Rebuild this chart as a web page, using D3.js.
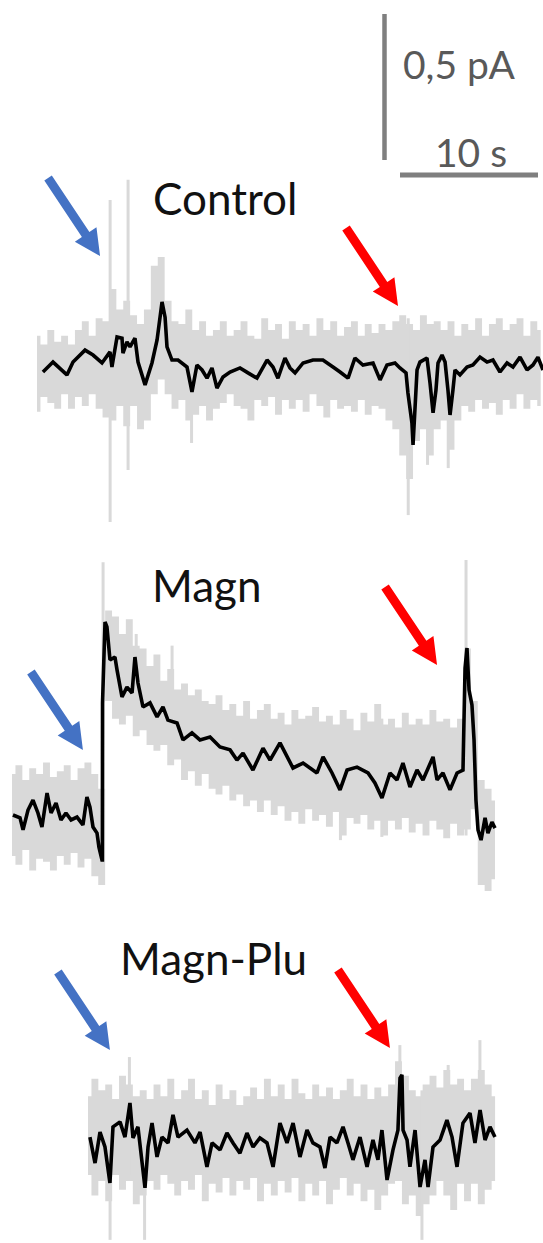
<!DOCTYPE html>
<html>
<head>
<meta charset="utf-8">
<script src="https://cdn.jsdelivr.net/npm/d3@7"></script>
<style>
  body { margin: 0; background: #fff; }
  svg { display: block; }
</style>
</head>
<body>
<div id="viz"></div>
<script>
const width = 543;
const height = 1243;

// ---- data: time in s, current in pA ----
// gray (raw) traces are stored as upper/lower envelope, one value every 0.5 s
const grayStep = 0.5;

// Control
const controlMean = [[0.43,-0.024],[1.16,0.010],[2.17,-0.034],[2.61,0.010],[3.48,0.051],[4.06,0.034],[4.71,0.007],[5.29,0.045],[5.43,-0.007],[5.80,0.096],[6.16,0.092],[6.23,0.041],[6.52,0.079],[6.74,0.062],[7.10,0.092],[7.32,0.010],[7.83,-0.068],[8.33,0.007],[8.70,0.086],[9.06,0.216],[9.28,0.164],[9.42,0.062],[9.78,0.017],[10.22,0.017],[10.87,-0.007],[11.23,-0.092],[11.59,0],[11.96,-0.017],[12.32,-0.045],[12.68,-0.010],[13.04,-0.079],[13.48,-0.041],[13.99,-0.024],[14.71,-0.010],[15.29,-0.027],[15.94,-0.045],[16.67,0.017],[17.10,-0.007],[17.46,-0.045],[17.97,0.024],[18.33,-0.010],[18.70,-0.027],[19.28,0.007],[20.0,0.017],[20.72,0.017],[21.45,-0.007],[21.96,-0.024],[22.54,-0.045],[23.04,0.024],[23.62,0],[24.35,0.007],[24.86,-0.051],[25.36,0],[25.94,0.007],[26.30,-0.010],[26.74,-0.027],[26.88,-0.096],[27.17,-0.199],[27.25,-0.274],[27.54,-0.017],[27.75,0.010],[28.26,0.024],[28.48,-0.062],[28.70,-0.164],[28.91,-0.086],[29.06,0.007],[29.35,0.034],[29.57,0.010],[29.78,-0.086],[29.93,-0.171],[30.14,-0.086],[30.29,-0.017],[30.65,-0.034],[31.16,-0.007],[31.59,0],[32.10,0.027],[32.61,0.010],[33.04,0.017],[33.55,-0.024],[34.06,0.007],[34.49,-0.007],[35.0,0.027],[35.51,-0.017],[35.94,0],[36.30,0.027],[36.67,-0.017]];
const controlHi = [0.10,0.07,0.12,0.08,0.10,0.07,0.12,0.15,0.10,0.16,0.15,0.26,0.19,0.22,0.17,0.14,0.19,0.34,0.37,0.22,0.15,0.14,0.19,0.12,0.15,0.10,0.12,0.15,0.10,0.12,0.15,0.10,0.09,0.16,0.12,0.14,0.09,0.15,0.12,0.14,0.10,0.16,0.12,0.15,0.10,0.13,0.15,0.10,0.14,0.11,0.14,0.12,0.15,0.17,0.14,0.12,0.17,0.14,0.15,0.12,0.15,0.10,0.14,0.12,0.16,0.10,0.14,0.16,0.12,0.14,0.16,0.10,0.15,0.12];
const controlLo = [-0.16,-0.11,-0.13,-0.15,-0.10,-0.15,-0.11,-0.14,-0.10,-0.15,-0.18,-0.19,-0.14,-0.21,-0.14,-0.22,-0.19,-0.10,-0.05,-0.10,-0.15,-0.12,-0.19,-0.17,-0.14,-0.19,-0.15,-0.13,-0.10,-0.14,-0.15,-0.19,-0.12,-0.14,-0.11,-0.17,-0.12,-0.15,-0.12,-0.16,-0.10,-0.14,-0.18,-0.12,-0.15,-0.14,-0.16,-0.12,-0.17,-0.14,-0.15,-0.19,-0.22,-0.31,-0.39,-0.26,-0.22,-0.31,-0.22,-0.19,-0.29,-0.19,-0.14,-0.16,-0.12,-0.15,-0.13,-0.17,-0.12,-0.15,-0.10,-0.15,-0.12,-0.14];
const controlSpikes = [[5.3,0.565,-0.538],[6.6,0.634,-0.36],[11.2,0.086,-0.267],[26.9,0.16,-0.514],[28.3,0.12,-0.342],[29.8,0.12,-0.353]];

// Magn
const magnMean = [[0.07,0],[0.58,-0.010],[0.80,-0.051],[1.16,0.017],[1.52,0.051],[1.88,0.007],[2.17,-0.041],[2.54,0.075],[2.83,0.007],[3.19,0.041],[3.55,-0.017],[3.91,0.007],[4.28,-0.017],[4.71,-0.007],[5.14,-0.034],[5.43,0.062],[5.65,0.027],[5.87,-0.041],[6.16,-0.062],[6.30,-0.110],[6.52,-0.154],[6.55,-0.154],[6.56,0.384],[6.74,0.661],[6.88,0.644],[7.10,0.531],[7.46,0.541],[7.61,0.497],[7.97,0.404],[8.33,0.438],[8.70,0.418],[8.91,0.541],[9.13,0.452],[9.49,0.370],[10.0,0.384],[10.51,0.336],[10.94,0.370],[11.30,0.325],[11.96,0.315],[12.39,0.257],[13.04,0.281],[13.62,0.257],[14.35,0.267],[15.07,0.233],[15.80,0.223],[16.30,0.188],[16.74,0.212],[17.46,0.154],[18.19,0.229],[18.70,0.188],[19.42,0.247],[20.36,0.161],[21.09,0.178],[22.10,0.144],[22.54,0.199],[23.19,0.144],[23.77,0.086],[24.28,0.154],[25.0,0.164],[25.80,0.144],[26.30,0.110],[26.81,0.058],[27.39,0.144],[27.90,0.120],[28.33,0.178],[28.84,0.096],[29.35,0.154],[29.78,0.120],[30.51,0.199],[30.80,0.120],[31.23,0.144],[31.74,0.086],[32.25,0.144],[32.68,0.154],[32.83,0.503],[32.97,0.572],[33.12,0.428],[33.33,0.377],[33.48,0.257],[33.62,0.051],[33.77,-0.051],[33.99,-0.086],[34.28,-0.010],[34.49,-0.062],[34.78,-0.024],[35.0,-0.045]];
const magnHi = [0.14,0.17,0.12,0.16,0.14,0.18,0.13,0.15,0.17,0.12,0.16,0.18,0.14,0.09,0.70,0.68,0.62,0.67,0.58,0.57,0.51,0.55,0.46,0.50,0.43,0.45,0.41,0.43,0.39,0.38,0.41,0.36,0.38,0.34,0.39,0.33,0.36,0.38,0.33,0.35,0.31,0.36,0.33,0.34,0.37,0.32,0.34,0.31,0.36,0.33,0.29,0.35,0.32,0.38,0.31,0.33,0.30,0.35,0.31,0.33,0.31,0.36,0.32,0.33,0.30,0.33,0.57,0.39,0.12,0.09,0.05];
const magnLo = [-0.14,-0.17,-0.12,-0.19,-0.15,-0.16,-0.19,-0.14,-0.17,-0.13,-0.18,-0.15,-0.21,-0.24,0.39,0.33,0.31,0.34,0.27,0.29,0.24,0.22,0.24,0.17,0.19,0.12,0.15,0.10,0.14,0.09,0.07,0.10,0.05,0.07,0.03,0.05,0.01,0.05,0.00,0.03,-0.02,0.01,-0.03,0.02,-0.02,0.00,-0.04,0.01,-0.07,-0.01,-0.03,0.00,-0.05,-0.02,-0.07,-0.02,-0.05,-0.01,-0.06,-0.03,-0.07,-0.02,-0.05,-0.08,-0.03,-0.07,-0.05,0.02,-0.24,-0.26,-0.22];
const magnSpikes = [[6.6,0.866,-0.24],[9.0,0.62,0.40],[11.6,0.58,0.30],[23.8,0.30,-0.086],[26.8,0.33,-0.075],[32.9,0.873,-0.07]];

// Magn-Plu
const magnPluMean = [[0.14,0.010],[0.51,-0.079],[0.87,0.027],[1.23,-0.024],[1.59,-0.147],[1.81,0.045],[2.32,0.062],[2.68,0.010],[3.04,0.127],[3.26,0.007],[3.62,0.045],[4.13,-0.164],[4.35,-0.024],[4.64,0.058],[5.0,-0.058],[5.36,0.010],[5.80,-0.010],[6.16,0.086],[6.52,0.010],[7.17,0.034],[7.75,-0.010],[8.12,0.027],[8.62,-0.092],[8.99,-0.010],[9.57,-0.034],[10.07,0.024],[10.51,-0.010],[11.01,-0.045],[11.52,0.024],[11.96,-0.024],[12.46,0.007],[12.97,-0.010],[13.41,-0.092],[13.91,0.058],[14.42,-0.010],[14.86,0.058],[15.36,-0.058],[15.87,0.034],[16.30,-0.010],[16.81,-0.024],[17.17,-0.096],[17.54,0.010],[18.04,-0.010],[18.48,0.045],[18.84,-0.010],[19.20,-0.068],[19.71,0.010],[20.22,-0.092],[20.65,0],[21.01,-0.068],[21.30,0.034],[21.67,-0.137],[22.10,-0.034],[22.46,0.034],[22.61,0.212],[22.75,0.223],[22.83,0.034],[23.12,0],[23.33,-0.092],[23.70,0.034],[24.06,-0.161],[24.42,-0.068],[24.64,-0.161],[25.0,-0.024],[25.51,0],[26.01,0.068],[26.38,0.010],[26.74,-0.092],[27.17,0.058],[27.68,0.092],[28.04,-0.010],[28.41,0.103],[28.77,0],[29.13,0.045],[29.49,0.010]];
const magnPluHi = [0.15,0.21,0.17,0.19,0.14,0.22,0.19,0.15,0.17,0.14,0.19,0.15,0.21,0.14,0.17,0.21,0.14,0.17,0.12,0.19,0.14,0.17,0.12,0.15,0.18,0.14,0.21,0.15,0.19,0.14,0.21,0.16,0.14,0.19,0.15,0.18,0.14,0.17,0.21,0.15,0.19,0.14,0.18,0.15,0.19,0.27,0.22,0.17,0.15,0.19,0.22,0.18,0.24,0.19,0.21,0.17,0.21,0.24,0.19,0.15];
const magnPluLo = [-0.12,-0.19,-0.14,-0.21,-0.12,-0.17,-0.14,-0.22,-0.19,-0.14,-0.17,-0.12,-0.15,-0.19,-0.14,-0.17,-0.12,-0.21,-0.15,-0.18,-0.13,-0.19,-0.14,-0.17,-0.13,-0.21,-0.15,-0.19,-0.14,-0.18,-0.13,-0.21,-0.15,-0.19,-0.14,-0.22,-0.17,-0.13,-0.19,-0.15,-0.21,-0.17,-0.24,-0.19,-0.15,-0.14,-0.22,-0.19,-0.26,-0.22,-0.19,-0.14,-0.19,-0.24,-0.15,-0.21,-0.15,-0.22,-0.17,-0.14];
const magnPluSpikes = [[1.6,0.15,-0.342],[3.0,0.284,-0.12],[4.1,0.15,-0.342],[22.6,0.325,-0.14],[24.2,0.17,-0.342],[26.1,0.257,-0.15],[28.4,0.342,-0.2]];

// scale bar
const scaleTime = 10;     // s
const scaleCurrent = 0.5; // pA

// arrow tips [time, current] in each panel (blue = onset, red = washout)
const controlArrows = [[4.57, 0.373, "#4472c4"], [26.16, 0.202, "#ff0000"]];
const magnArrows = [[5.14, 0.223, "#4472c4"], [30.80, 0.514, "#ff0000"]];
const magnPluArrows = [[1.59, 0.308, "#4472c4"], [21.88, 0.315, "#ff0000"]];

// ---- scales ----
const x = d3.scaleLinear().domain([0, scaleTime]).range([0, 138]);
const y = d3.scaleLinear().domain([0, scaleCurrent]).range([0, -146]);

const panels = [
  { title: "Control", ox: 37, oy: 365, tx: 153, ty: 215,
    mean: controlMean, hi: controlHi, lo: controlLo, spikes: controlSpikes, arrows: controlArrows },
  { title: "Magn", ox: 12, oy: 815, tx: 152, ty: 602,
    mean: magnMean, hi: magnHi, lo: magnLo, spikes: magnSpikes, arrows: magnArrows },
  { title: "Magn-Plu", ox: 88, oy: 1140, tx: 120, ty: 975,
    mean: magnPluMean, hi: magnPluHi, lo: magnPluLo, spikes: magnPluSpikes, arrows: magnPluArrows }
];

const svg = d3.select("#viz")
  .append("svg")
  .attr("width", width)
  .attr("height", height);

const grayColor = "#d9d9d9";

const area = d3.area()
  .x(d => x(d.t))
  .y0(d => y(d.lo))
  .y1(d => y(d.hi))
  .curve(d3.curveStep);

const line = d3.line()
  .x(d => x(d[0]))
  .y(d => y(d[1]));

// arrow polygon pointing down-right, tip at 0,0
function arrowPoints() {
  const dx = 52, dy = 78;
  const len = Math.hypot(dx, dy);
  const ux = dx / len, uy = dy / len;
  const nx = -uy, ny = ux;
  const shaft = 4.5, head = 13, headLen = 26;
  const bx = -ux * headLen, by = -uy * headLen;
  const tx = -ux * len, ty = -uy * len;
  return [
    [tx + nx * shaft, ty + ny * shaft],
    [bx + nx * shaft, by + ny * shaft],
    [bx + nx * head, by + ny * head],
    [0, 0],
    [bx - nx * head, by - ny * head],
    [bx - nx * shaft, by - ny * shaft],
    [tx - nx * shaft, ty - ny * shaft]
  ];
}

panels.forEach(p => {
  const g = svg.append("g").attr("transform", `translate(${p.ox},${p.oy})`);

  const band = p.hi.map((h, i) => ({ t: i * grayStep, hi: h, lo: p.lo[i] }));

  g.append("path")
    .datum(band)
    .attr("d", area)
    .attr("fill", grayColor);

  g.selectAll(".spike")
    .data(p.spikes)
    .join("line")
    .attr("x1", d => x(d[0]))
    .attr("x2", d => x(d[0]))
    .attr("y1", d => y(d[1]))
    .attr("y2", d => y(d[2]))
    .attr("stroke", grayColor)
    .attr("stroke-width", 3);

  g.append("path")
    .datum(p.mean)
    .attr("d", line)
    .attr("fill", "none")
    .attr("stroke", "#000")
    .attr("stroke-width", 3.6)
    .attr("stroke-linejoin", "miter")
    .attr("stroke-miterlimit", 1.5);

  g.selectAll(".arrow")
    .data(p.arrows)
    .join("polygon")
    .attr("transform", d => `translate(${x(d[0])},${y(d[1])})`)
    .attr("points", arrowPoints().map(q => q.join(",")).join(" "))
    .attr("fill", d => d[2]);

  svg.append("text")
    .attr("x", p.tx)
    .attr("y", p.ty)
    .attr("font-family", "Lato, 'Open Sans', sans-serif")
    .attr("font-size", "44px")
    .attr("fill", "#111")
    .text(p.title);
});

// scale bar
const bar = svg.append("g");
bar.append("line")
  .attr("x1", 384.5).attr("x2", 384.5)
  .attr("y1", 14).attr("y2", 14 - y(scaleCurrent))
  .attr("stroke", "#7f7f7f").attr("stroke-width", 4.5);
bar.append("line")
  .attr("x1", 400).attr("x2", 400 + x(scaleTime))
  .attr("y1", 175).attr("y2", 175)
  .attr("stroke", "#7f7f7f").attr("stroke-width", 5);
bar.append("text")
  .attr("x", 403).attr("y", 79)
  .attr("font-family", "Lato, 'Open Sans', sans-serif")
  .attr("font-size", "39px")
  .attr("fill", "#595959")
  .text("0,5 pA");
bar.append("text")
  .attr("x", 435).attr("y", 167)
  .attr("font-family", "Lato, 'Open Sans', sans-serif")
  .attr("font-size", "39px")
  .attr("fill", "#595959")
  .text("10 s");
</script>
</body>
</html>
